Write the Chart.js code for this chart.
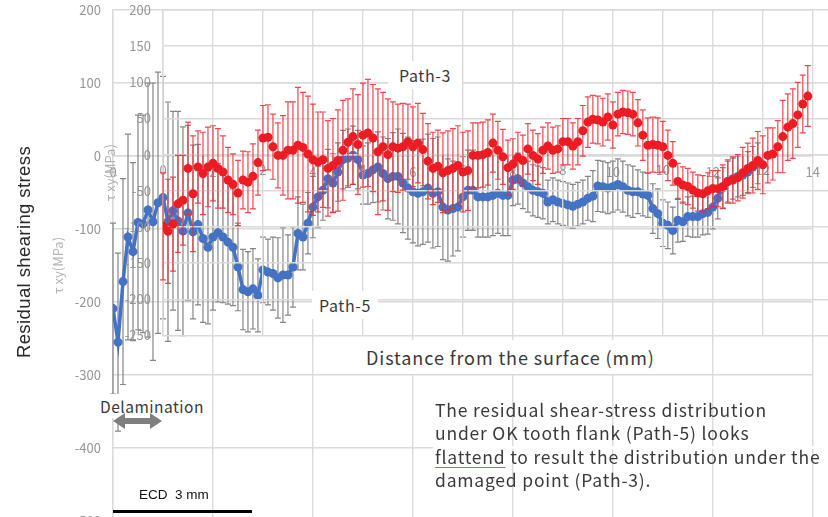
<!DOCTYPE html>
<html>
<head>
<meta charset="utf-8">
<script src="https://cdn.jsdelivr.net/npm/chart.js@4.4.1/dist/chart.umd.min.js"></script>
<style>
  html, body { margin: 0; padding: 0; background: #fff; overflow: hidden; }
  #wrap { position: relative; width: 828px; height: 517px; overflow: hidden; background: #fff; }
  #wrap canvas { position: absolute; left: 0; top: 0; }
  .note { position: absolute; font-family: 'Noto Sans CJK JP', 'Noto Sans', sans-serif; color: #3a3a3a; white-space: nowrap; }
  .boxed { background: #fff; }
</style>
</head>
<body>
<div id="wrap">
  <canvas id="path5Chart" width="828" height="532"></canvas>
  <canvas id="path3Chart" width="878" height="340"></canvas>

  <div class="note" style="left:-96px; top:240px; width:240px; text-align:center; transform:rotate(-90deg); font-family:'Liberation Sans', Arial, sans-serif; font-size:18.5px; letter-spacing:0.4px; color:#2a2a2a; line-height:24px;">Residual shearing stress</div>

  <div class="note boxed" style="left:388px; top:61px; width:74px; height:28px; line-height:28px; text-align:center; font-size:16px; letter-spacing:0.6px;">Path-3</div>
  <div class="note boxed" style="left:312px; top:291px; width:66px; height:28px; line-height:28px; text-align:center; font-size:16px; letter-spacing:0.6px;">Path-5</div>
  <div class="note boxed" style="left:355px; top:340px; width:312px; height:34px; line-height:34px; padding-left:11px; box-sizing:border-box; font-size:18px; letter-spacing:0.9px;">Distance from the surface (mm)</div>
  <div class="note boxed" style="left:98px; top:394px; width:106px; height:24px; line-height:24px; padding-left:2px; box-sizing:border-box; font-size:15.5px; letter-spacing:0.5px;">Delamination</div>

  <svg style="position:absolute; left:110px; top:410px;" width="56" height="22">
    <polygon points="3,11 15,3 15,8 40,8 40,3 52,11 40,19 40,14 15,14 15,19" fill="#7f7f7f"/>
  </svg>

  <div style="position:absolute; left:433px; top:446px; width:395px; height:3px; background:#fff;"></div>
  <div class="note" style="left:435px; top:398px; font-size:17.5px; letter-spacing:0.8px; line-height:23.3px;">
    The residual shear-stress distribution<br>
    under OK tooth flank (Path-5) looks<br>
    <span style="text-decoration:underline; text-decoration-color:#e05a5a; text-decoration-thickness:1px; text-underline-offset:3px;">flattend</span> to result the distribution under the<br>
    damaged point (Path-3).
  </div>

  <div class="note" style="left:139px; top:487px; font-family:'Liberation Sans', Arial, sans-serif; font-size:13.5px; color:#111;">ECD&nbsp; 3 mm</div>
  <div style="position:absolute; left:113px; top:510px; width:139px; height:3px; background:#000;"></div>
</div>

<script>
// sampling positions along each path (mm)
const distance = [
  0.0, 0.1, 0.2, 0.3, 0.4, 0.5, 0.6, 0.7, 0.8, 0.9,
  1.0, 1.1, 1.2, 1.3, 1.4, 1.5, 1.6, 1.7, 1.8, 1.9,
  2.0, 2.1, 2.2, 2.3, 2.4, 2.5, 2.6, 2.7, 2.8, 2.9,
  3.0, 3.1, 3.2, 3.3, 3.4, 3.5, 3.6, 3.7, 3.8, 3.9,
  4.0, 4.1, 4.2, 4.3, 4.4, 4.5, 4.6, 4.7, 4.8, 4.9,
  5.0, 5.1, 5.2, 5.3, 5.4, 5.5, 5.6, 5.7, 5.8, 5.9,
  6.0, 6.1, 6.2, 6.3, 6.4, 6.5, 6.6, 6.7, 6.8, 6.9,
  7.0, 7.1, 7.2, 7.3, 7.4, 7.5, 7.6, 7.7, 7.8, 7.9,
  8.0, 8.1, 8.2, 8.3, 8.4, 8.5, 8.6, 8.7, 8.8, 8.9,
  9.0, 9.1, 9.2, 9.3, 9.4, 9.5, 9.6, 9.7, 9.8, 9.9,
  10.0, 10.1, 10.2, 10.3, 10.4, 10.5, 10.6, 10.7, 10.8, 10.9,
  11.0, 11.1, 11.2, 11.3, 11.4, 11.5, 11.6, 11.7, 11.8, 11.9,
  12.0, 12.1, 12.2, 12.3, 12.4, 12.5, 12.6, 12.7, 12.8, 12.9
];

// Path-5 (OK tooth flank), tau xy in MPa
const path5Stress = [
  -209, -255, -172, -111, -131, -91, -93, -74, -90, -64,
  -57, -90, -75, -89, -103, -78, -104, -94, -113, -125,
  -111, -105, -111, -118, -125, -152, -183, -186, -182, -191,
  -156, -159, -161, -167, -163, -163, -152, -106, -111, -92,
  -70, -56, -47, -31, -37, -22, -5, -3, 1, -5,
  -26, -24, -19, -15, -24, -31, -28, -28, -37, -44,
  -49, -51, -49, -44, -51, -49, -70, -74, -72, -70,
  -56, -47, -47, -56, -56, -56, -54, -51, -54, -54,
  -33, -31, -37, -42, -47, -49, -51, -63, -60, -63,
  -65, -67, -69, -66, -63, -58, -55, -41, -42, -44,
  -42, -39, -42, -47, -49, -49, -52, -54, -72, -79,
  -92, -95, -102, -88, -90, -83, -83, -83, -79, -77,
  -70, -58, -44, -35, -31, -28, -26, -22, -15, -10
];
const path5Error = [
  117, 122, 141, 141, 122, 147, 149, 174, 190, 179,
  166, 164, 136, 150, 143, 120, 119, 110, 115, 105,
  100, 95, 90, 85, 80, 60, 55, 55, 55, 50,
  45, 45, 50, 55, 65, 55, 55, 50, 45, 42,
  42, 42, 41, 40, 40, 40, 40, 40, 40, 40,
  40, 42, 45, 48, 50, 55, 60, 65, 68, 70,
  70, 72, 72, 74, 75, 75, 72, 70, 65, 60,
  55, 55, 55, 55, 55, 55, 55, 55, 55, 55,
  35, 35, 35, 35, 35, 35, 35, 30, 30, 30,
  30, 30, 30, 30, 30, 30, 35, 35, 35, 35,
  35, 35, 35, 35, 35, 30, 30, 30, 34, 34,
  32, 32, 32, 30, 27, 27, 28, 28, 29, 30,
  30, 28, 28, 28, 28, 28, 28, 28, 28, 28
];

// Path-3 (damaged point), tau xy in MPa
const path3Stress = [
  -99, -106, -96, -68, -63, -19, -54, -17, -26, -17,
  -12, -19, -24, -35, -41, -53, -35, -38, -30, -11,
  23, 24, 11, -1, -1, 6, 6, 13, 10, 1,
  -7, -10, -7, -19, -15, -8, 6, 17, 25, 14,
  27, 30, 23, 4, 11, 0, 11, 9, 11, 18,
  11, 16, 7, -9, -19, -16, -25, -22, -19, -15,
  -24, -22, -1, -1, 0, 3, 16, 6, -3, -18,
  -13, -4, -8, 8, -1, -6, 6, 12, 6, 8,
  18, 18, 12, 18, 33, 45, 49, 48, 45, 52,
  41, 56, 59, 58, 56, 44, 27, 13, 14, 13,
  11, -1, -12, -37, -42, -44, -49, -53, -54, -50,
  -47, -47, -44, -37, -35, -32, -25, -19, -15, -8,
  -14, -1, 1, 11, 25, 38, 43, 55, 70, 81
];
const path3Error = [
  74, 72, 65, 67, 62, 64, 80, 50, 57, 55,
  52, 55, 50, 45, 42, 45, 40, 42, 45, 45,
  45, 45, 45, 45, 55, 67, 67, 80, 76, 80,
  77, 69, 66, 66, 65, 70, 69, 60, 66, 69,
  72, 74, 74, 87, 75, 77, 62, 61, 60, 52,
  55, 55, 50, 52, 50, 50, 55, 55, 55, 55,
  55, 55, 45, 45, 45, 45, 40, 40, 38, 38,
  35, 35, 35, 35, 35, 35, 32, 32, 32, 32,
  32, 32, 32, 32, 35, 35, 33, 33, 33, 32,
  32, 30, 30, 30, 30, 32, 35, 38, 38, 38,
  35, 35, 30, 25, 25, 25, 25, 25, 25, 25,
  25, 25, 30, 30, 32, 32, 35, 35, 38, 40,
  40, 38, 36, 36, 50, 46, 48, 45, 40, 42
];

const gridColor = '#dadada';
const tickColor = '#959595';
const tickFont = { family: "'Noto Sans CJK JP', 'Noto Sans', sans-serif", size: 13 };

// vertical +/- error bars with caps, drawn under the markers
const errorBars = {
  id: 'errorBars',
  beforeDatasetsDraw(chart) {
    const { ctx, scales: { x, y } } = chart;
    chart.data.datasets.forEach(ds => {
      if (!ds.errors) return;
      ctx.save();
      ctx.strokeStyle = ds.errorColor;
      ctx.lineWidth = 1.2;
      ds.data.forEach((pt, i) => {
        const px = x.getPixelForValue(pt.x);
        const top = y.getPixelForValue(pt.y + ds.errors[i]);
        const bottom = y.getPixelForValue(pt.y - ds.errors[i]);
        ctx.beginPath();
        ctx.moveTo(px, top);
        ctx.lineTo(px, bottom);
        ctx.moveTo(px - 3, top);
        ctx.lineTo(px + 3, top);
        ctx.moveTo(px - 3, bottom);
        ctx.lineTo(px + 3, bottom);
        ctx.stroke();
      });
      ctx.restore();
    });
  }
};

const toPoints = values => distance.map((d, i) => ({ x: d, y: values[i] }));

function xAxis() {
  return {
    type: 'linear',
    position: { y: 0 },
    min: 0, max: 14,
    ticks: { stepSize: 2, color: tickColor, font: tickFont, padding: 8, maxRotation: 0, autoSkip: false },
    grid: { color: gridColor, lineWidth: 1.4, drawTicks: false },
    border: { color: gridColor, width: 1.4 }
  };
}

function yAxis(min, max, step, width, titleColor) {
  return {
    min, max,
    ticks: { stepSize: step, color: tickColor, font: tickFont, padding: 12 },
    grid: { color: gridColor, lineWidth: 1.4, drawTicks: false },
    border: { color: gridColor, width: 1.4 },
    title: { display: true, text: 'τ xy(MPa)', color: titleColor, font: tickFont, padding: 0 },
    // fixed axis width; the plot edges come from layout.padding alone
    afterFit: scale => {
      scale.width = width;
      scale.paddingTop = 0;
      scale.paddingBottom = 0;
    }
  };
}

const baseOptions = {
  responsive: false,
  animation: false,
  events: [],
  plugins: { legend: { display: false }, tooltip: { enabled: false } }
};

// Path-5 chart: wide y range, x origin at the left axis
new Chart(document.getElementById('path5Chart'), {
  type: 'scatter',
  data: {
    datasets: [{
      data: toPoints(path5Stress),
      errors: path5Error,
      errorColor: '#858585',
      showLine: true,
      borderColor: '#4472c4',
      backgroundColor: '#4472c4',
      borderWidth: 3.5,
      pointRadius: 4.5,
      pointBorderWidth: 0
    }]
  },
  options: {
    ...baseOptions,
    layout: { padding: { left: 50, top: 10, right: 15, bottom: 11 } },
    scales: { x: xAxis(), y: yAxis(-500, 200, 100, 63, '#b5b5b5') }
  },
  plugins: [errorBars]
});

// Path-3 chart: laid over the first one, shifted right by its own axis
new Chart(document.getElementById('path3Chart'), {
  type: 'scatter',
  data: {
    datasets: [{
      data: toPoints(path3Stress),
      errors: path3Error,
      errorColor: 'rgba(236, 40, 46, 0.85)',
      showLine: false,
      backgroundColor: '#ec1c24',
      borderColor: '#ec1c24',
      pointRadius: 4.5,
      pointBorderWidth: 0
    }]
  },
  options: {
    ...baseOptions,
    layout: { padding: { left: 102, top: 10, right: 15, bottom: 2 } },
    scales: { x: xAxis(), y: yAxis(-250, 200, 50, 61, '#b0b0b0') }
  },
  plugins: [errorBars]
});
</script>
</body>
</html>
